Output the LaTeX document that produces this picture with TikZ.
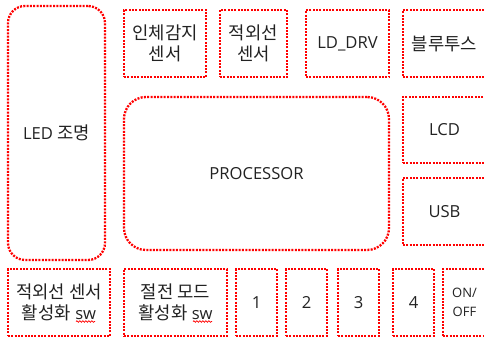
\documentclass[tikz,border=0pt]{standalone}
\usepackage{fontspec}
\setmainfont{Open Sans}
\newfontfamily\kr[Scale=1.07]{Noto Sans CJK KR}
\usetikzlibrary{decorations.pathmorphing}
\definecolor{boxred}{RGB}{255,0,0}
\definecolor{txt}{RGB}{34,34,34}
\begin{document}
\begin{tikzpicture}[x=1pt,y=-1pt,
  box/.style={draw=boxred, line width=2.3pt, dash pattern=on 2pt off 1.3pt, text=txt, align=center, inner sep=0pt, font=\fontsize{16.6}{20.5}\selectfont},
  wave/.style={draw=boxred, line width=0.7pt, decorate, decoration={snake, segment length=3pt, amplitude=0.8pt}}]
\useasboundingbox (0,0) rectangle (484,340);
\clip (0,0) rectangle (484,340);
% left tall
\node[box, rounded corners=17pt, minimum width=97pt, minimum height=254pt] (led) at (56.5,133) {LED {\kr 조명}};
% top row
\node[box, minimum width=82pt, minimum height=67pt] (pir) at (165,43.5) {{\kr 인체감지}\\{\kr 센서}};
\node[box, minimum width=67pt, minimum height=67pt] (ir) at (253.5,43.5) {{\kr 적외선}\\{\kr 센서}};
\node[box, minimum width=83pt, minimum height=67pt] (ld) at (347.5,43.5) {LD\_DRV};
\node[box, minimum width=83pt, minimum height=67pt] (bt) at (444.5,43.5) {{\kr 블루투스}};
% middle
\node[box, rounded corners=22pt, minimum width=265pt, minimum height=153pt] (cpu) at (256.5,173.5) {PROCESSOR};
\node[box, minimum width=83pt, minimum height=66pt] (lcd) at (444.5,130) {LCD};
\node[box, minimum width=83pt, minimum height=67pt] (usb) at (444.5,211.5) {USB};
% bottom row
\node[box, minimum width=102pt, minimum height=67pt] (irsw) at (59,302.5) {{\kr 적외선 센서}\\{\kr 활성화} sw};
\node[box, minimum width=103pt, minimum height=67pt] (pssw) at (175.5,302.5) {{\kr 절전 모드}\\{\kr 활성화} sw};
\node[box, minimum width=41pt, minimum height=67pt] (b1) at (256.5,302.5) {1};
\node[box, minimum width=41pt, minimum height=67pt] (b2) at (306.5,302.5) {2};
\node[box, minimum width=41pt, minimum height=67pt] (b3) at (358.5,302.5) {3};
\node[box, minimum width=41pt, minimum height=67pt] (b4) at (413.5,302.5) {4};
\node[box, minimum width=43pt, minimum height=67pt, font=\fontsize{13}{19.5}\selectfont] (onoff) at (464.5,302.5) {ON/\\OFF};
% spell-check underlines
\draw[wave] (76,321.5) -- (95,321.5);
\draw[wave] (193,321.5) -- (212,321.5);
\end{tikzpicture}
\end{document}
